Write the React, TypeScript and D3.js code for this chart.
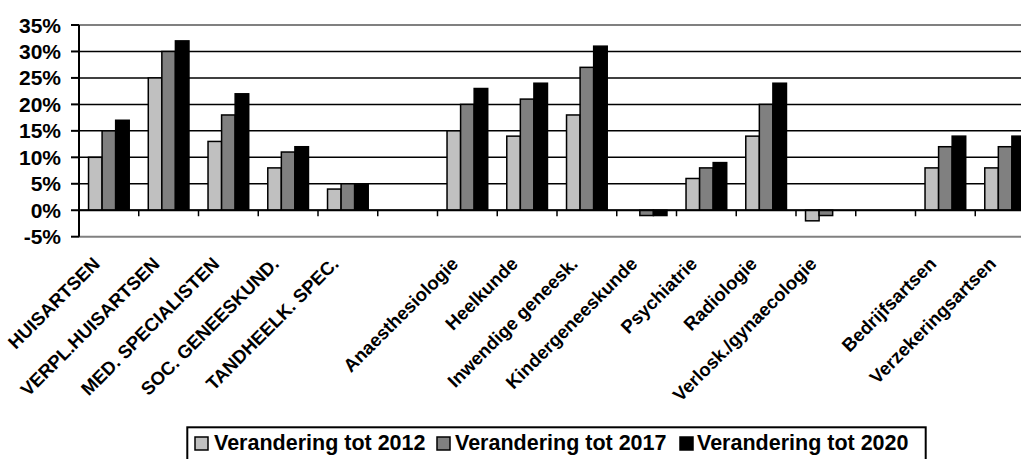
import React from "react";
import * as d3 from "d3";

const categories = [
  "HUISARTSEN",
  "VERPL.HUISARTSEN",
  "MED. SPECIALISTEN",
  "SOC. GENEESKUND.",
  "TANDHEELK. SPEC.",
  "",
  "Anaesthesiologie",
  "Heelkunde",
  "Inwendige geneesk.",
  "Kindergeneeskunde",
  "Psychiatrie",
  "Radiologie",
  "Verlosk./gynaecologie",
  " ",
  "Bedrijfsartsen",
  "Verzekeringsartsen",
];

const series2012 = [10, 25, 13, 8, 4, null, 15, 14, 18, 0, 6, 14, -2, null, 8, 8];
const series2017 = [15, 30, 18, 11, 5, null, 20, 21, 27, -1, 8, 20, -1, null, 12, 12];
const series2020 = [17, 32, 22, 12, 5, null, 23, 24, 31, -1, 9, 24, 0, null, 14, 14];

const seriesNames = ["Verandering tot 2012", "Verandering tot 2017", "Verandering tot 2020"];
const seriesColors = ["#C0C0C0", "#808080", "#000000"];
const yTicks = [-5, 0, 5, 10, 15, 20, 25, 30, 35];

const W = 1021;
const H = 459;
const FONT = "'Liberation Sans', Arial, Helvetica, sans-serif";

export default function App() {
  const left = 79;
  const slot = 59.75;
  const right = left + slot * categories.length;
  const top = 25;
  const bottom = 236.7;

  const x = d3.scaleBand<number>().domain(d3.range(categories.length)).range([left, right]).padding(0);
  const y = d3.scaleLinear().domain([-5, 35]).range([bottom, top]);

  const bw = x.bandwidth() * 0.227;
  const groupOffset = (x.bandwidth() - 3 * bw) / 2;
  const allSeries = [series2012, series2017, series2020];

  const legendItems = [
    { mx: 195, tx: 214 },
    { mx: 437, tx: 455 },
    { mx: 680, tx: 697 },
  ];

  return (
    <svg
      width={W}
      height={H}
      style={{ position: "absolute", left: 0, top: 0, display: "block", background: "#fff" }}
      fontFamily={FONT}
    >
      {/* gridlines */}
      {yTicks.map((t) => {
        const isBorder = t === 35 || t === -5;
        return (
          <line
            key={"g" + t}
            x1={left}
            x2={right}
            y1={y(t)}
            y2={y(t)}
            stroke={isBorder ? "#808080" : "#000"}
            strokeWidth={isBorder ? 2 : 1.5}
          />
        );
      })}

      {/* bars */}
      {allSeries.map((s, si) =>
        s.map((v, i) => {
          if (v === null || v === 0) return null;
          const bx = (x(i) as number) + groupOffset + si * bw;
          const y0 = y(0);
          const yv = y(v);
          return (
            <rect
              key={`b${si}-${i}`}
              x={bx}
              y={Math.min(y0, yv)}
              width={bw}
              height={Math.abs(yv - y0)}
              fill={seriesColors[si]}
              stroke="#000"
              strokeWidth={1.5}
            />
          );
        })
      )}

      {/* zero axis */}
      <line x1={left} x2={right} y1={y(0)} y2={y(0)} stroke="#000" strokeWidth={2} />
      {/* category ticks */}
      {d3.range(1, categories.length).map((i) => (
        <line
          key={"ct" + i}
          x1={x(i) as number}
          x2={x(i) as number}
          y1={y(0)}
          y2={y(0) + 6}
          stroke="#000"
          strokeWidth={1.5}
        />
      ))}

      {/* y axis */}
      <line x1={left} x2={left} y1={top} y2={bottom} stroke="#000" strokeWidth={2} />
      {yTicks.map((t) => (
        <g key={"yt" + t}>
          <line x1={left - 8} x2={left} y1={y(t)} y2={y(t)} stroke="#000" strokeWidth={2} />
          <text
            x={61}
            y={y(t)}
            dy="0.36em"
            textAnchor="end"
            fontSize={21}
            fontWeight="bold"
            fill="#000"
          >
            {t + "%"}
          </text>
        </g>
      ))}

      {/* x labels */}
      {categories.map((c, i) => {
        if (!c.trim()) return null;
        const cx = (x(i) as number) + x.bandwidth() / 2 - 8;
        const cy = 265;
        return (
          <text
            key={"xl" + i}
            transform={`translate(${cx},${cy}) rotate(-45)`}
            textAnchor="end"
            fontSize={18.5}
            fontWeight="bold"
            fill="#000"
          >
            {c}
          </text>
        );
      })}

      {/* legend */}
      <rect x={187.3} y={427.3} width={738.4} height={45} fill="#fff" stroke="#000" strokeWidth={2} />
      {seriesNames.map((n, i) => (
        <g key={"lg" + i}>
          <rect
            x={legendItems[i].mx}
            y={437}
            width={13}
            height={13}
            fill={seriesColors[i]}
            stroke="#000"
            strokeWidth={1.5}
          />
          <text x={legendItems[i].tx} y={450} fontSize={21.5} fontWeight="bold" fill="#000">
            {n}
          </text>
        </g>
      ))}
    </svg>
  );
}
